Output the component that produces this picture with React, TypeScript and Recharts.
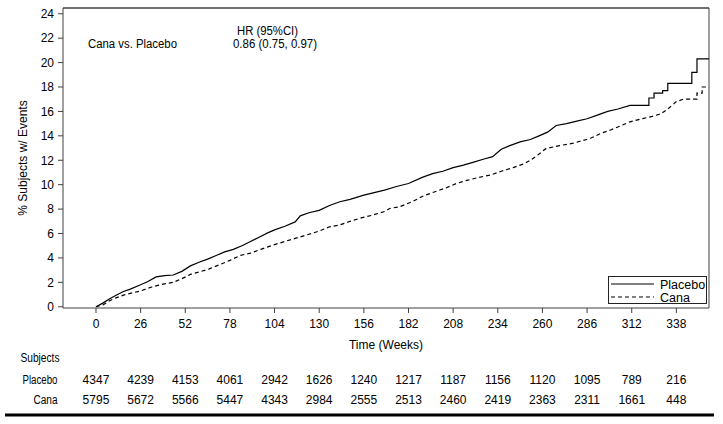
import React from 'react';
import { LineChart, Line, XAxis, YAxis, Legend, ReferenceLine } from 'recharts';

// cumulative % of subjects with events
// (repeated weeks mark the visible vertical jumps in the tail)
const placeboWeeks = [0, 4, 8, 12, 16, 20, 26, 30, 35, 40, 45, 50, 55, 60, 65, 70, 75, 80, 85, 90, 95, 100, 104, 110, 116, 119, 124, 130, 136, 142, 148, 156, 162, 168, 175, 182, 190, 196, 202, 208, 214, 220, 226, 231, 236, 241, 247, 253, 258, 263, 268, 274, 280, 286, 292, 298, 304, 311, 322, 322, 325, 325, 330, 330, 333, 333, 347, 347, 350, 350, 357];
const placeboPct = [0, 0.3, 0.65, 0.96, 1.25, 1.45, 1.8, 2.05, 2.45, 2.55, 2.6, 2.9, 3.35, 3.65, 3.9, 4.2, 4.5, 4.7, 5.0, 5.35, 5.7, 6.05, 6.3, 6.6, 6.95, 7.45, 7.7, 7.9, 8.3, 8.6, 8.8, 9.15, 9.35, 9.55, 9.85, 10.1, 10.6, 10.9, 11.1, 11.4, 11.6, 11.85, 12.1, 12.3, 12.9, 13.2, 13.5, 13.7, 14.0, 14.3, 14.85, 15.0, 15.2, 15.4, 15.7, 16.0, 16.2, 16.5, 16.5, 17.1, 17.1, 17.5, 17.5, 17.7, 17.7, 18.3, 18.3, 19.2, 19.2, 20.3, 20.3];

const canaWeeks = [0, 4, 8, 12, 16, 20, 26, 32, 39, 45, 50, 55, 60, 66, 72, 78, 84, 90, 96, 103, 110, 116, 122, 130, 136, 142, 148, 155, 161, 168, 171, 177, 184, 191, 197, 204, 210, 216, 223, 230, 236, 243, 249, 253, 257, 262, 270, 278, 288, 294, 300, 306, 311, 318, 324, 329, 333, 338, 342, 350, 350, 353, 353, 357];
const canaPct = [0, 0.15, 0.5, 0.75, 0.95, 1.1, 1.3, 1.6, 1.85, 2.0, 2.3, 2.65, 2.85, 3.1, 3.45, 3.8, 4.2, 4.4, 4.7, 5.05, 5.35, 5.6, 5.85, 6.2, 6.55, 6.7, 7.0, 7.3, 7.5, 7.8, 8.05, 8.2, 8.6, 9.1, 9.4, 9.75, 10.1, 10.35, 10.6, 10.8, 11.1, 11.4, 11.7, 12.0, 12.4, 12.95, 13.2, 13.4, 13.8, 14.2, 14.5, 14.85, 15.15, 15.4, 15.6, 15.8, 16.2, 16.8, 17.0, 17.0, 17.5, 17.5, 18.0, 18.0];

const weekTicks = [0, 26, 52, 78, 104, 130, 156, 182, 208, 234, 260, 286, 312, 338];
const pctTicks = [0, 2, 4, 6, 8, 10, 12, 14, 16, 18, 20, 22, 24];
const placeboAtRisk = [4347, 4239, 4153, 4061, 2942, 1626, 1240, 1217, 1187, 1156, 1120, 1095, 789, 216];
const canaAtRisk = [5795, 5672, 5566, 5447, 4343, 2984, 2555, 2513, 2460, 2419, 2363, 2311, 1661, 448];
const legendOrder = ['Placebo', 'Cana'];

const placeboData = placeboWeeks.map((w, i) => ({ week: w, pct: placeboPct[i] }));
const canaData = canaWeeks.map((w, i) => ({ week: w, pct: canaPct[i] }));

const X_DOMAIN: [number, number] = [-19.2, 357];
const Y_DOMAIN: [number, number] = [-0.1, 24.47];
const FONT = '"Liberation Sans", Arial, sans-serif';
const FRAME = '#404040';

const WeekTick = ({ x, y, payload }: any) => {
  const i = weekTicks.indexOf(payload.value);
  return (
    <g fontFamily={FONT} fontSize={12} fill="#000" textAnchor="middle">
      <text x={x} y={y + 13}>{payload.value}</text>
      <text x={x} y={y + 69}>{placeboAtRisk[i]}</text>
      <text x={x} y={y + 89}>{canaAtRisk[i]}</text>
    </g>
  );
};

const KmLegend = ({ payload }: any) => {
  const items = legendOrder
    .map((name) => (payload || []).find((p: any) => p.value === name))
    .filter(Boolean);
  return (
    <div style={{ width: 99, height: 28, boxSizing: 'border-box', border: '1px solid #222', background: '#fff' }}>
      <svg width={97} height={26} style={{ display: 'block' }} fontFamily={FONT} fontSize={12.5}>
        {items.map((entry: any, i: number) => (
          <g key={entry.value}>
            <line x1={2} x2={45} y1={7 + i * 13} y2={7 + i * 13} stroke="#000" strokeWidth={1} strokeDasharray={entry.payload?.strokeDasharray} />
            <text x={51} y={11.5 + i * 13} fill="#000">{entry.value}</text>
          </g>
        ))}
      </svg>
    </div>
  );
};

export default function App() {
  return (
    <div style={{ position: 'absolute', left: 0, top: 0, width: 723, height: 424, background: '#fff' }}>
      <LineChart width={723} height={424} margin={{ top: 8, right: 14, left: 23, bottom: 86 }}>
        <XAxis
          dataKey="week"
          type="number"
          domain={X_DOMAIN}
          ticks={weekTicks}
          allowDataOverflow
          height={30}
          tickSize={5}
          tickMargin={2}
          stroke={FRAME}
          tick={<WeekTick />}
          interval={0}
        />
        <YAxis
          type="number"
          domain={Y_DOMAIN}
          ticks={pctTicks}
          allowDataOverflow
          width={40}
          tickSize={5}
          tickMargin={4}
          stroke={FRAME}
          tick={{ fill: '#000', fontSize: 12, fontFamily: FONT }}
          interval={0}
        />
        <ReferenceLine y={Y_DOMAIN[1]} stroke={FRAME} strokeWidth={1.5} />
        <ReferenceLine x={X_DOMAIN[1]} stroke={FRAME} strokeWidth={1} />
        <Legend layout="horizontal" verticalAlign="middle" align="center" wrapperStyle={{ left: 608, top: 276, width: 99, height: 28 }} content={<KmLegend />} />
        <Line data={placeboData} dataKey="pct" name="Placebo" type="linear" stroke="#000" strokeWidth={1.2} dot={false} isAnimationActive={false} />
        <Line data={canaData} dataKey="pct" name="Cana" type="linear" stroke="#000" strokeWidth={1.2} strokeDasharray="4 3" dot={false} isAnimationActive={false} />
      </LineChart>
      <svg width={723} height={424} style={{ position: 'absolute', left: 0, top: 0, pointerEvents: 'none' }} fontFamily={FONT} fontSize={12} fill="#000">
        <text x={23} y={158} transform="rotate(-90 23 158)" textAnchor="middle" dominantBaseline="central">% Subjects w/ Events</text>
        <text x={386} y={349} textAnchor="middle">Time (Weeks)</text>
        <text x={237} y={34.5} textLength={61} lengthAdjust="spacingAndGlyphs">HR (95%CI)</text>
        <text x={233} y={48} textLength={84} lengthAdjust="spacingAndGlyphs">0.86 (0.75, 0.97)</text>
        <text x={88} y={48} textLength={89} lengthAdjust="spacingAndGlyphs">Cana vs. Placebo</text>
        <text x={20.5} y={362} textLength={39} lengthAdjust="spacingAndGlyphs">Subjects</text>
        <text x={22.5} y={384} textLength={35} lengthAdjust="spacingAndGlyphs">Placebo</text>
        <text x={33.5} y={404} textLength={24} lengthAdjust="spacingAndGlyphs">Cana</text>
        <rect x={5} y={413.5} width={709} height={3} fill="#000" />
      </svg>
    </div>
  );
}
